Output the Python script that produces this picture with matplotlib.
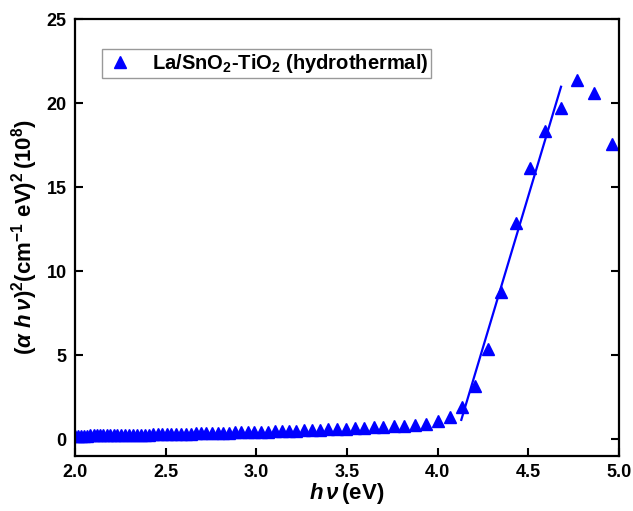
import numpy as np
import matplotlib
matplotlib.use("Agg")
import matplotlib.pyplot as plt

plt.rcParams['font.family'] = ['Liberation Sans', 'DejaVu Sans']
plt.rcParams['font.weight'] = 'bold'
plt.rcParams['mathtext.fontset'] = 'custom'
plt.rcParams['mathtext.rm'] = 'Liberation Sans:bold'
plt.rcParams['mathtext.it'] = 'Liberation Sans:italic:bold'
plt.rcParams['mathtext.bf'] = 'Liberation Sans:bold'

# photon energy (eV) and (alpha h nu)^2 values
energy = [2.000, 2.016, 2.033, 2.050, 2.067, 2.084, 2.102, 2.120, 2.138, 2.157,
          2.175, 2.195, 2.214, 2.234, 2.255, 2.275, 2.296, 2.318, 2.340, 2.362,
          2.385, 2.408, 2.431, 2.455, 2.480, 2.505, 2.531, 2.557, 2.583, 2.611,
          2.638, 2.667, 2.696, 2.725, 2.756, 2.787, 2.818, 2.851, 2.884, 2.918,
          2.952, 2.988, 3.024, 3.062, 3.100, 3.139, 3.179, 3.221, 3.263, 3.307,
          3.351, 3.397, 3.444, 3.493, 3.543, 3.594, 3.647, 3.701, 3.758, 3.815,
          3.875, 3.937, 4.000, 4.066, 4.133, 4.203, 4.276, 4.351, 4.429, 4.509,
          4.593, 4.679, 4.769, 4.863, 4.960]
ahv2 = [0.21, 0.21, 0.22, 0.22, 0.22, 0.23, 0.23, 0.23, 0.24, 0.24,
        0.24, 0.25, 0.25, 0.25, 0.26, 0.26, 0.26, 0.27, 0.27, 0.28,
        0.28, 0.28, 0.29, 0.29, 0.30, 0.30, 0.31, 0.31, 0.32, 0.33,
        0.33, 0.34, 0.35, 0.35, 0.36, 0.37, 0.38, 0.39, 0.40, 0.41,
        0.42, 0.43, 0.44, 0.45, 0.46, 0.47, 0.49, 0.50, 0.52, 0.54,
        0.56, 0.58, 0.61, 0.63, 0.66, 0.68, 0.71, 0.73, 0.76, 0.80,
        0.86, 0.93, 1.07, 1.33, 1.92, 3.17, 5.36, 8.73, 12.84, 16.15,
        18.33, 19.70, 21.37, 20.60, 17.55]

# linear fit of the absorption edge (end points)
fit_x = [4.13, 4.68]
fit_y = [1.15, 20.97]

fig = plt.figure(figsize=(6.33, 5.11), dpi=100)
ax = fig.add_axes([0.1185, 0.1076, 0.8595, 0.8552])

ax.plot(energy, ahv2, linestyle='none', marker='^', markersize=9,
        color='#0000ff', label=r'La/SnO$_2$-TiO$_2$ (hydrothermal)')
ax.plot(fit_x, fit_y, color='#0000ff', linewidth=1.6)

ax.set_xlim(2.0, 5.0)
ax.set_ylim(-1, 25)
ax.set_xticks([2.0, 2.5, 3.0, 3.5, 4.0, 4.5, 5.0])
ax.set_yticks([0, 5, 10, 15, 20, 25])
ax.xaxis.set_major_formatter(matplotlib.ticker.FormatStrFormatter('%.1f'))

for s in ax.spines.values():
    s.set_linewidth(1.6)
ax.tick_params(direction='in', length=6, width=1.5, labelsize=13,
               right=True, top=False, pad=6)

ax.set_xlabel(r'$h\,\nu\,$(eV)', fontsize=16, fontweight='bold', labelpad=0)
ax.set_ylabel(r'$(\alpha\ h\,\nu)^2\mathregular{(cm^{-1}\ eV)^2\,(10^8)}$',
              fontsize=16, fontweight='bold', labelpad=5)

leg = ax.legend(loc='upper left', bbox_to_anchor=(0.05, 0.931), borderaxespad=0,
                numpoints=1, fontsize=14.5, fancybox=False, handletextpad=0.8,
                handlelength=1.5, borderpad=0.15)
leg.get_frame().set_edgecolor('#808080')
leg.get_frame().set_linewidth(1.0)

fig.savefig('out.png', dpi=100)
